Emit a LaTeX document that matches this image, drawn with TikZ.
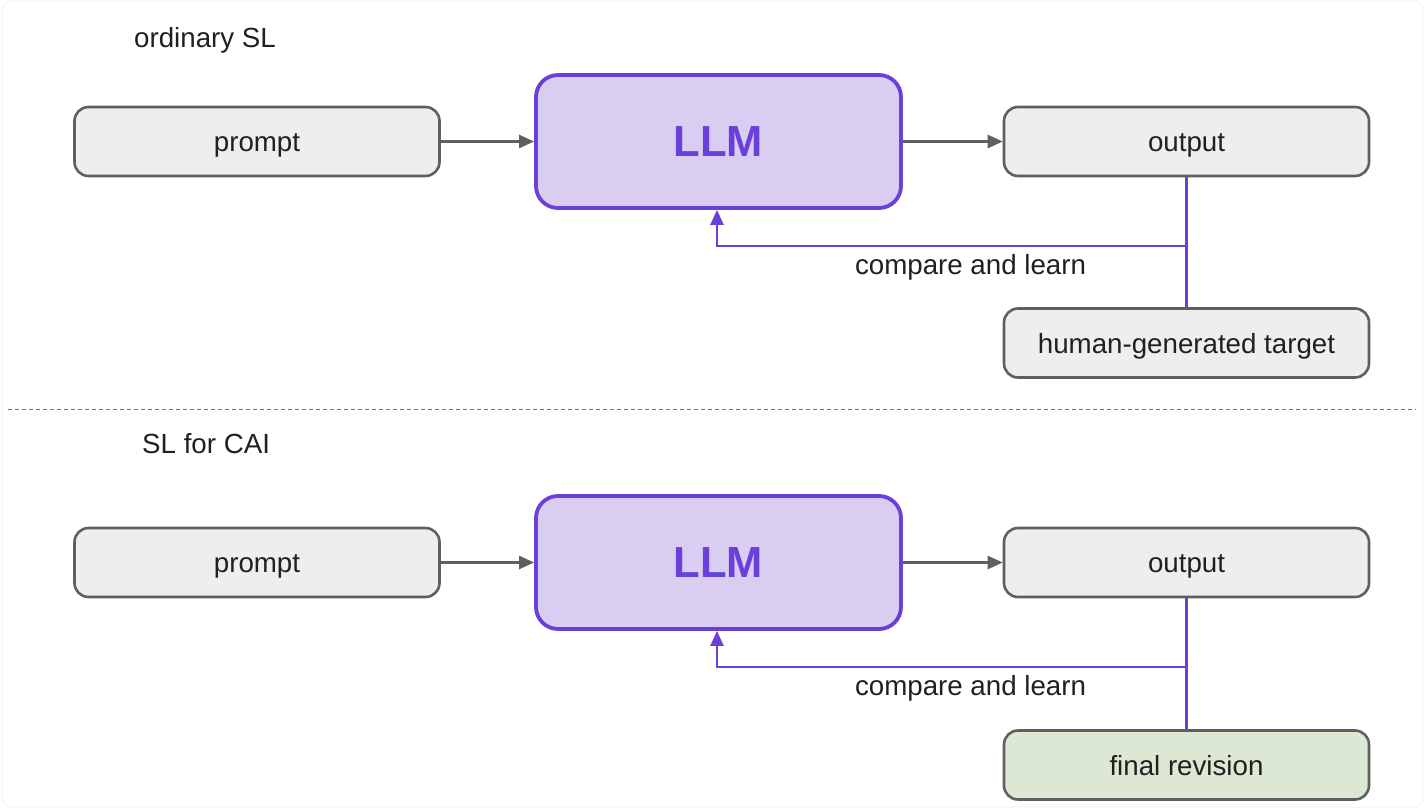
\documentclass[tikz,border=0pt]{standalone}
\usepackage{fontspec}
\setmainfont{Liberation Sans}
\usetikzlibrary{arrows.meta}
\definecolor{purp}{HTML}{6B3FD9}
\definecolor{purpfill}{HTML}{D9CDF2}
\definecolor{boxgray}{HTML}{EEEEEE}
\definecolor{edgegray}{HTML}{5F5F5F}
\definecolor{greenfill}{HTML}{DDE8D4}
\definecolor{txt}{HTML}{202020}
\tikzset{
  graybox/.style={draw=edgegray, fill=boxgray, line width=2.6pt, rounded corners=14pt,
    minimum width=365pt, minimum height=69pt, inner sep=0pt, text=txt,
    font=\fontsize{27.7}{32}\selectfont, text height=20.5pt, text depth=0pt},
  greenbox/.style={graybox, fill=greenfill},
  llmbox/.style={draw=purp, fill=purpfill, line width=3.8pt, rounded corners=22pt,
    minimum width=365pt, minimum height=133pt, inner sep=0pt, text=purp,
    font=\fontsize{43.5}{50}\selectfont\bfseries},
  grayarrow/.style={draw=edgegray, line width=2.4pt, -{Triangle[length=15pt,width=13pt]}},
  purpline/.style={draw=purp, line width=2.4pt},
  purparrow/.style={purpline, -{Triangle[length=15pt,width=13pt]}},
  lbl/.style={text=txt, font=\fontsize{27.7}{32}\selectfont, inner sep=0pt},
  title/.style={text=txt, font=\fontsize{27.7}{32}\selectfont, inner sep=0pt, anchor=west}
}
\begin{document}
\begin{tikzpicture}[x=1pt,y=-1pt]
\useasboundingbox (0,0) rectangle (1424,808);
\draw[draw=black!5, line width=1pt, rounded corners=10pt] (2,1) rectangle (1423,807);

% top section
\node[title] (t1) at (134,40) {ordinary SL};
\node[graybox] (p1) at (257,141.5) {prompt};
\node[llmbox] (l1) at (718.5,141.5) {LLM};
\node[graybox] (o1) at (1186.5,141.5) {output};
\node[graybox] (h1) at (1186.5,343) {human-generated target};
\draw[grayarrow] (p1.east) -- (l1.west);
\draw[grayarrow] (l1.east) -- (o1.west);
\coordinate (j1) at (1187,246);
\coordinate (k1) at (717,246);
\draw[purpline] (o1.south) -- (h1.north);
\draw[purparrow] (j1) -- (k1) -- (k1 |- l1.south);
\node[lbl] (c1) at (970.5,267) {compare and learn};

% divider
\coordinate (d1) at (8,409);
\coordinate (d2) at (1416,409);
\draw[draw=black!55, line width=1pt, dash pattern=on 4pt off 3pt] (d1) -- (d2);

% bottom section
\node[title] (t2) at (142,444) {SL for CAI};
\node[graybox] (p2) at (257,562.5) {prompt};
\node[llmbox] (l2) at (718.5,562.5) {LLM};
\node[graybox] (o2) at (1186.5,562.5) {output};
\node[greenbox] (f2) at (1186.5,765) {final revision};
\draw[grayarrow] (p2.east) -- (l2.west);
\draw[grayarrow] (l2.east) -- (o2.west);
\coordinate (j2) at (1187,667);
\coordinate (k2) at (717,667);
\draw[purpline] (o2.south) -- (f2.north);
\draw[purparrow] (j2) -- (k2) -- (k2 |- l2.south);
\node[lbl] (c2) at (970.5,688) {compare and learn};
\end{tikzpicture}
\end{document}
